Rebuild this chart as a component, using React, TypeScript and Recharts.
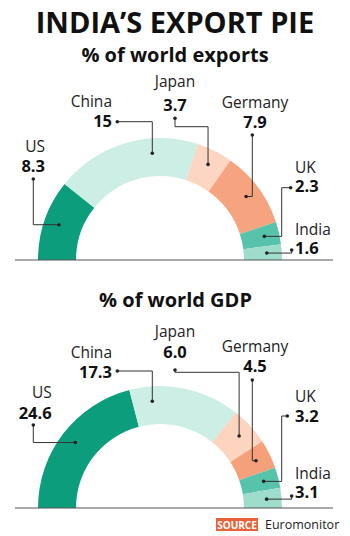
import React from "react";
import { PieChart, Pie, Cell } from "recharts";

const countries = ["US", "China", "Japan", "Germany", "UK", "India"];
const exportShare = [8.3, 15, 3.7, 7.9, 2.3, 1.6];
const exportText = ["8.3", "15", "3.7", "7.9", "2.3", "1.6"];
const gdpShare = [24.6, 17.3, 6.0, 4.5, 3.2, 3.1];
const gdpText = ["24.6", "17.3", "6.0", "4.5", "3.2", "3.1"];

const exportColors = ["#0c9e7c", "#cdeee4", "#fcd6c3", "#f6a47f", "#56c3aa", "#9edccc"];
const gdpColors = ["#0c9e7c", "#cdeee4", "#fcd4c0", "#f5a07a", "#56c3aa", "#9edccc"];

const FONT = "'Open Sans', sans-serif";

type Route = "vh" | "hv" | "vhv" | "hvh";
type LabelPos = {
  x: number;
  nameY: number;
  valueY: number;
  anchor: "start" | "middle" | "end";
  dotX: number;
  dotY: number;
  route: Route;
  mid?: number;
  lineX?: number;
};

// label placement, page coordinates
const exportLabelPos: LabelPos[] = [
  { x: 45, nameY: 152, valueY: 172, anchor: "end", dotX: 33.3, dotY: 179, route: "vh" },
  { x: 112, nameY: 106.7, valueY: 126.7, anchor: "end", dotX: 117.3, dotY: 121.7, route: "hv", lineX: 152.3 },
  { x: 175, nameY: 87, valueY: 110.7, anchor: "middle", dotX: 175, dotY: 118.3, route: "vhv", mid: 126.7 },
  { x: 255, nameY: 108, valueY: 127.7, anchor: "middle", dotX: 252.3, dotY: 135, route: "vh" },
  { x: 295, nameY: 172.7, valueY: 191.7, anchor: "start", dotX: 290.7, dotY: 187.7, route: "hvh", mid: 281.7 },
  { x: 295, nameY: 235, valueY: 254, anchor: "start", dotX: 291.7, dotY: 250, route: "vh" },
];

const gdpLabelPos: LabelPos[] = [
  { x: 51.7, nameY: 398.3, valueY: 419.3, anchor: "end", dotX: 33.3, dotY: 425, route: "vh" },
  { x: 112, nameY: 358.3, valueY: 377.7, anchor: "end", dotX: 117.3, dotY: 371, route: "hv", lineX: 152.3 },
  { x: 175, nameY: 337.3, valueY: 358.3, anchor: "middle", dotX: 175, dotY: 370, route: "vhv", mid: 372.3 },
  { x: 255, nameY: 351.7, valueY: 371.7, anchor: "middle", dotX: 252.3, dotY: 380, route: "vh" },
  { x: 295, nameY: 401.7, valueY: 421.7, anchor: "start", dotX: 287.3, dotY: 416, route: "hvh", mid: 281.7 },
  { x: 295, nameY: 479, valueY: 498.3, anchor: "start", dotX: 291.7, dotY: 496, route: "vh" },
];

const RAD = Math.PI / 180;

function makeLabel(layout: LabelPos[], texts: string[], top: number) {
  return (props: any) => {
    const { cx, cy, midAngle, innerRadius, outerRadius, index } = props;
    const L = layout[index];
    const r = (innerRadius + outerRadius) / 2 + 4;
    let sx = cx + r * Math.cos(-midAngle * RAD);
    let sy = cy + r * Math.sin(-midAngle * RAD);
    if (L.lineX !== undefined) {
      sx = L.lineX;
      sy = cy - Math.sqrt(r * r - (sx - cx) * (sx - cx));
    }
    const dx = L.dotX;
    const dy = L.dotY - top;
    let pts: number[][];
    if (L.route === "vh") pts = [[dx, dy], [dx, sy], [sx, sy]];
    else if (L.route === "hv") pts = [[dx, dy], [sx, dy], [sx, sy]];
    else if (L.route === "vhv") {
      const m = (L.mid as number) - top;
      pts = [[dx, dy], [dx, m], [sx, m], [sx, sy]];
    } else {
      const m = L.mid as number;
      pts = [[dx, dy], [m, dy], [m, sy], [sx, sy]];
    }
    return (
      <g key={"lbl" + index}>
        <polyline
          points={pts.map((p) => p.join(",")).join(" ")}
          fill="none"
          stroke="#333"
          strokeWidth={1}
        />
        <circle cx={dx} cy={dy} r={1.8} fill="#222" />
        <circle cx={sx} cy={sy} r={1.8} fill="#222" />
        <text x={L.x} y={L.nameY - top} textAnchor={L.anchor} fontFamily={FONT} fontSize={15.5} fill="#222">
          {countries[index]}
        </text>
        <text x={L.x} y={L.valueY - top} textAnchor={L.anchor} fontFamily={FONT} fontSize={16.5} fontWeight={700} fill="#111">
          {texts[index]}
        </text>
      </g>
    );
  };
}

function HalfPie({ values, texts, colors, layout, top }: any) {
  const data = countries.map((c, i) => ({ name: c, value: values[i] }));
  return (
    <div style={{ position: "absolute", left: 0, top }}>
      <PieChart width={350} height={270} margin={{ top: 0, right: 0, bottom: 0, left: 0 }}>
        <Pie
          data={data}
          dataKey="value"
          cx={160}
          cy={260}
          startAngle={180}
          endAngle={0}
          innerRadius={84}
          outerRadius={122}
          stroke="none"
          paddingAngle={0}
          labelLine={false}
          label={makeLabel(layout, texts, top)}
          isAnimationActive={false}
        >
          {data.map((d, i) => (
            <Cell key={d.name} fill={colors[i]} />
          ))}
        </Pie>
      </PieChart>
    </div>
  );
}

export default function App() {
  return (
    <div style={{ position: "absolute", left: 0, top: 0, width: 350, height: 536, background: "#fff", overflow: "hidden" }}>
      <HalfPie values={exportShare} texts={exportText} colors={exportColors} layout={exportLabelPos} top={0} />
      <HalfPie values={gdpShare} texts={gdpText} colors={gdpColors} layout={gdpLabelPos} top={248} />
      <svg width={350} height={536} style={{ position: "absolute", left: 0, top: 0, pointerEvents: "none" }}>
        <text x={175} y={33} textAnchor="middle" fontFamily={FONT} fontSize={29} fontWeight={700} fill="#111">
          INDIA’S EXPORT PIE
        </text>
        <text x={175} y={61.7} textAnchor="middle" fontFamily={FONT} fontSize={20} fontWeight={700} fill="#111">
          % of world exports
        </text>
        <text x={175.5} y={307.3} textAnchor="middle" fontFamily={FONT} fontSize={20} fontWeight={700} fill="#111">
          % of world GDP
        </text>
        <line x1={15} x2={333} y1={260} y2={260} stroke="#555" strokeWidth={1.2} />
        <line x1={15} x2={333} y1={508} y2={508} stroke="#555" strokeWidth={1.2} />
        <rect x={216} y={518} width={42} height={13} fill="#e8633b" />
        <text x={237} y={528.5} textAnchor="middle" fontFamily={FONT} fontSize={10} fontWeight={700} fill="#fff">
          SOURCE
        </text>
        <text x={265} y={529} fontFamily={FONT} fontSize={12.5} fill="#222">
          Euromonitor
        </text>
      </svg>
    </div>
  );
}
